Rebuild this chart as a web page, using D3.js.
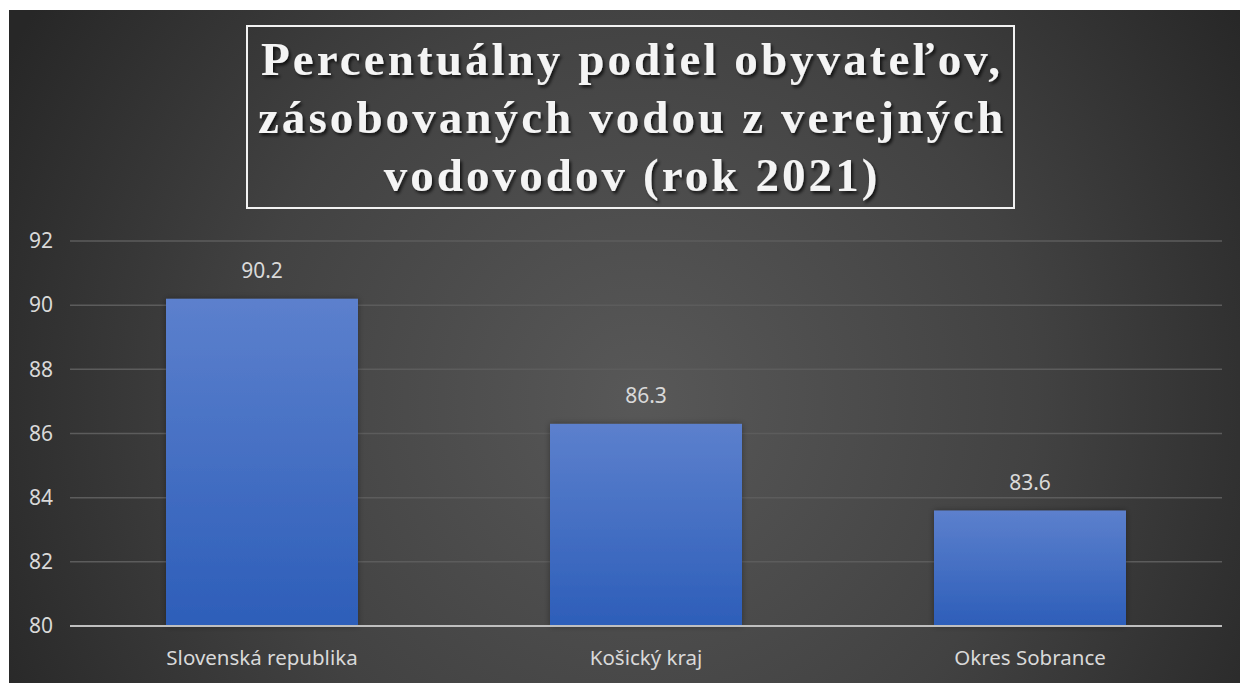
<!DOCTYPE html>
<html>
<head>
<meta charset="utf-8">
<script src="https://cdn.jsdelivr.net/npm/d3@7"></script>
<style>
  body { margin: 0; background: #fff; }
  svg { display: block; }
</style>
</head>
<body>
<svg id="chart"></svg>
<script>
// Data
const categories = ['Slovenská republika', 'Košický kraj', 'Okres Sobrance'];
const values = [90.2, 86.3, 83.6];
const yTicks = [80, 82, 84, 86, 88, 90, 92];
const titleLines = ['Percentuálny podiel obyvateľov,', 'zásobovaných vodou z verejných', 'vodovodov (rok 2021)'];

const svgWidth = 1240,
    svgHeight = 683;

const svg = d3.select('svg#chart')
    .attr('width', svgWidth)
    .attr('height', svgHeight);

const plot = { left: 70, right: 1222, top: 241, bottom: 626 };
const labelColor = '#d9d9d9',
    gridColor = '#5c5c5c',
    axisColor = '#bfbfbf';

const defs = svg.append('defs');

// background gradient
const bg = defs.append('radialGradient')
    .attr('id', 'bgGrad')
    .attr('gradientUnits', 'userSpaceOnUse')
    .attr('cx', 640).attr('cy', 400).attr('r', 720);
bg.append('stop').attr('offset', 0).attr('stop-color', '#585858');
bg.append('stop').attr('offset', 0.55).attr('stop-color', '#424242');
bg.append('stop').attr('offset', 1).attr('stop-color', '#272727');

// bar gradient
const barGrad = defs.append('linearGradient')
    .attr('id', 'barGrad')
    .attr('x1', 0).attr('y1', 0).attr('x2', 0).attr('y2', 1);
barGrad.append('stop').attr('offset', 0).attr('stop-color', '#5c80cd');
barGrad.append('stop').attr('offset', 1).attr('stop-color', '#2d5eb9');

const titleShadow = defs.append('filter').attr('id', 'titleShadow')
    .attr('x', '-10%').attr('y', '-20%').attr('width', '120%').attr('height', '150%');
titleShadow.append('feDropShadow')
    .attr('dx', 2).attr('dy', 2.5).attr('stdDeviation', 1.5)
    .attr('flood-color', '#000').attr('flood-opacity', 0.7);

const barShadow = defs.append('filter').attr('id', 'barShadow')
    .attr('x', '-10%').attr('y', '-10%').attr('width', '120%').attr('height', '120%');
barShadow.append('feDropShadow')
    .attr('dx', 0).attr('dy', 0).attr('stdDeviation', 3)
    .attr('flood-color', '#000').attr('flood-opacity', 0.35);

svg.append('rect')
    .attr('x', 9).attr('y', 10)
    .attr('width', svgWidth - 9).attr('height', svgHeight - 10)
    .attr('fill', 'url(#bgGrad)');

// Scales
const x = d3.scaleBand()
    .domain(categories)
    .range([plot.left, plot.right])
    .paddingInner(0.5)
    .paddingOuter(0.25);

const y = d3.scaleLinear()
    .domain([80, 92])
    .range([plot.bottom, plot.top]);

// Gridlines
svg.append('g')
    .selectAll('line')
    .data(yTicks.filter(d => d !== 80))
    .join('line')
    .attr('x1', plot.left).attr('x2', plot.right)
    .attr('y1', d => y(d)).attr('y2', d => y(d))
    .attr('stroke', gridColor)
    .attr('stroke-width', 1.5);

// Y axis labels
const yAxis = svg.append('g')
    .attr('transform', `translate(${plot.left - 17},0)`)
    .call(d3.axisLeft(y).tickValues(yTicks).tickSize(0).tickPadding(0));
yAxis.select('.domain').remove();
yAxis.selectAll('text')
    .attr('fill', labelColor)
    .style('font-family', '"Noto Sans", sans-serif')
    .style('font-size', '21px');

// Bars
svg.append('g')
    .selectAll('rect')
    .data(values)
    .join('rect')
    .attr('x', (d, i) => x(categories[i]))
    .attr('y', d => y(d))
    .attr('width', x.bandwidth())
    .attr('height', d => y(80) - y(d))
    .attr('fill', 'url(#barGrad)')
    .attr('filter', 'url(#barShadow)');

// Data labels
svg.append('g')
    .selectAll('text')
    .data(values)
    .join('text')
    .text(d => d.toFixed(1))
    .attr('x', (d, i) => x(categories[i]) + x.bandwidth() / 2)
    .attr('y', d => y(d) - 21)
    .attr('text-anchor', 'middle')
    .attr('fill', labelColor)
    .style('font-family', '"Noto Sans", sans-serif')
    .style('font-size', '21px');

// X axis line
svg.append('line')
    .attr('x1', plot.left).attr('x2', plot.right)
    .attr('y1', y(80)).attr('y2', y(80))
    .attr('stroke', axisColor)
    .attr('stroke-width', 2);

// X axis labels
const xAxis = svg.append('g')
    .attr('transform', `translate(0,${y(80)})`)
    .call(d3.axisBottom(x).tickSize(0).tickPadding(0));
xAxis.select('.domain').remove();
xAxis.selectAll('text')
    .attr('dy', null)
    .attr('y', 39)
    .attr('fill', labelColor)
    .style('font-family', '"Noto Sans", sans-serif')
    .style('font-size', '20.5px');

// Title box
const titleBox = { x: 247, y: 26, w: 767, h: 182 };
svg.append('rect')
    .attr('x', titleBox.x).attr('y', titleBox.y)
    .attr('width', titleBox.w).attr('height', titleBox.h)
    .attr('fill', 'none')
    .attr('stroke', '#f2f2f2')
    .attr('stroke-width', 2);

const title = svg.append('g').attr('filter', 'url(#titleShadow)');
const titleText = title.selectAll('text')
    .data(titleLines)
    .join('text')
    .text(d => d)
    .attr('x', titleBox.x + titleBox.w / 2)
    .attr('y', (d, i) => 75 + i * 58)
    .attr('text-anchor', 'middle')
    .attr('fill', '#f4f4f4')
    .style('font-family', '"Liberation Serif", "Times New Roman", serif')
    .style('font-weight', 'bold')
    .style('font-size', '47px');

// spread letters so first line spans the box like in the original
const firstNode = titleText.nodes()[0];
const naturalWidth = firstNode.getComputedTextLength();
const spacing = (742 - naturalWidth) / titleLines[0].length;
titleText
    .style('letter-spacing', spacing + 'px')
    .attr('dx', spacing / 2);
</script>
</body>
</html>
